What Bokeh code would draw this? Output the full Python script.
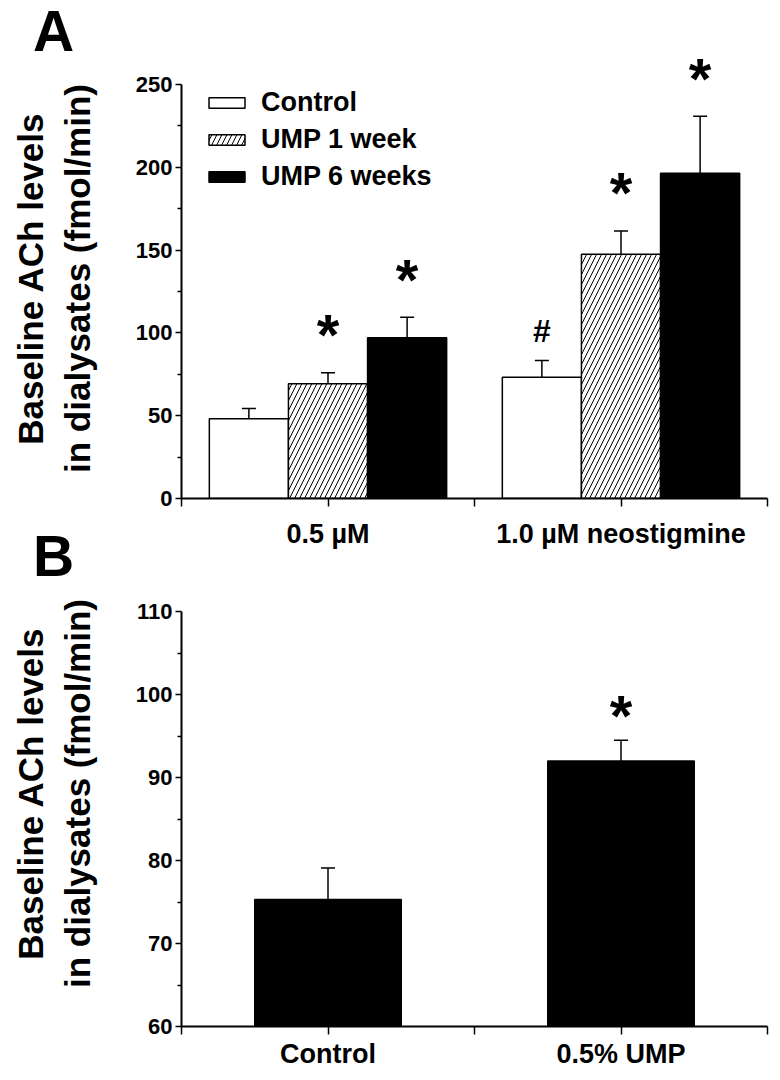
import numpy as np
from bokeh.plotting import figure
from bokeh.models import (ColumnDataSource, Range1d, FixedTicker, Whisker, TeeHead,
                          Legend, LegendItem, Div)
from bokeh.layouts import column
from bokeh.embed import file_html
from bokeh.resources import INLINE
from bokeh.core.properties import value

# ---------------- data ----------------
groups_A = ["0.5 \u00b5M", "1.0 \u00b5M neostigmine"]
series_A = ["Control", "UMP 1 week", "UMP 6 weeks"]
control_A = [48.2, 73.2]
control_A_err = [6.2, 10.1]
ump1_A = [69.3, 147.5]
ump1_A_err = [6.7, 14.1]
ump6_A = [97.0, 196.4]
ump6_A_err = [12.5, 34.5]
sig_control_A = ["", "#"]
sig_ump1_A = ["*", "*"]
sig_ump6_A = ["*", "*"]
yticks_A = [0, 50, 100, 150, 200, 250]
yminor_A = [25, 75, 125, 175, 225]

groups_B = ["Control", "0.5% UMP"]
vals_B = [75.3, 92.0]
err_B = [3.8, 2.5]
sig_B = ["", "*"]
yticks_B = [60, 70, 80, 90, 100, 110]
yminor_B = [65, 75, 85, 95, 105]

panel_letters = ["A", "B"]

FONT = "Liberation Sans"
YLABEL = "Baseline ACh levels\nin dialysates (fmol/min)"

# ---------------- layout constants ----------------
FRAME_W = 586
LEFT = 181
RIGHT = 5
W = LEFT + FRAME_W + RIGHT

A_TOP, A_FRAME_H, A_BOTTOM = 58, 440, 62
B_TOP, B_FRAME_H, B_BOTTOM = 0, 466, 46

A_PPU = 414.0 / 250.0
B_PPU = 415.0 / 50.0
A_YEND = A_FRAME_H / A_PPU
B_YEND = 60 + B_FRAME_H / B_PPU


def style(p, yticks, yminor, ybounds, xlabels, x_standoff):
    p.xgrid.visible = False
    p.ygrid.visible = False
    p.outline_line_color = None
    p.background_fill_color = "white"
    p.border_fill_color = "white"

    yax = p.yaxis[0]
    yax.ticker = FixedTicker(ticks=yticks, minor_ticks=yminor)
    yax.bounds = ybounds
    yax.axis_line_width = 2
    yax.major_tick_line_width = 1.5
    yax.minor_tick_line_width = 1.5
    yax.major_tick_in = 0
    yax.major_tick_out = 6
    yax.minor_tick_in = 0
    yax.minor_tick_out = 4
    yax.major_label_standoff = 3
    yax.major_label_text_font = FONT
    yax.major_label_text_font_style = "bold"
    yax.major_label_text_font_size = "22px"
    yax.major_label_text_color = "black"
    yax.axis_label = YLABEL
    yax.axis_label_text_font = FONT
    yax.axis_label_text_font_style = "bold"
    yax.axis_label_text_font_size = "35px"
    yax.axis_label_text_color = "black"
    yax.axis_label_standoff = 36

    n = len(xlabels)
    xticks = list(range(0, 2 * n + 1))
    overrides = {t: "" for t in xticks}
    for i, lab in enumerate(xlabels):
        overrides[2 * i + 1] = lab
    xax = p.xaxis[0]
    xax.ticker = FixedTicker(ticks=xticks, minor_ticks=[])
    xax.major_label_overrides = overrides
    xax.bounds = (0, 2 * n)
    xax.axis_line_width = 2
    xax.major_tick_line_width = 1.5
    xax.major_tick_in = 0
    xax.major_tick_out = 8
    xax.major_label_standoff = x_standoff
    xax.major_label_text_font = FONT
    xax.major_label_text_font_style = "bold"
    xax.major_label_text_font_size = "27px"
    xax.major_label_text_color = "black"


# ---------------- panel A ----------------
pA = figure(width=W, height=A_TOP + A_FRAME_H + A_BOTTOM, output_backend="svg",
            toolbar_location=None, x_range=Range1d(0, 4), y_range=Range1d(0, A_YEND),
            min_border_left=LEFT, min_border_right=RIGHT,
            min_border_top=A_TOP, min_border_bottom=A_BOTTOM)
style(pA, yticks_A, yminor_A, (0, 250), groups_A, 12)

centers_A = np.arange(len(groups_A)) * 2 + 1.0
bw = 0.54
offsets = [-bw, 0.0, bw]
series_vals = [control_A, ump1_A, ump6_A]
series_errs = [control_A_err, ump1_A_err, ump6_A_err]
series_sig = [sig_control_A, sig_ump1_A, sig_ump6_A]
fills = ["white", "white", "black"]
hatches = [None, "right_diagonal_line", None]

legend_items = []
for k, name in enumerate(series_A):
    vals = np.array(series_vals[k])
    errs = np.array(series_errs[k])
    xs = centers_A + offsets[k]
    sig = series_sig[k]
    star_px = np.array([29.5 if s == "#" else 38.0 for s in sig])
    src = ColumnDataSource(dict(x=xs, top=vals, upper=vals + errs,
                                sy=vals + errs + star_px / A_PPU, sig=sig))
    kw = dict(x="x", top="top", bottom=0, width=bw, source=src,
              fill_color=fills[k], line_color="black", line_width=1.5)
    if hatches[k]:
        kw.update(hatch_pattern=hatches[k], hatch_scale=10, hatch_weight=1,
                  hatch_color="black")
    r = pA.vbar(**kw)
    legend_items.append(LegendItem(label=name, renderers=[r]))
    pA.add_layout(Whisker(source=src, base="x", lower="top", upper="upper",
                          dimension="height", line_width=1.5, line_color="black",
                          lower_head=None,
                          upper_head=TeeHead(size=14, line_width=1.5, line_color="black")))
    for mark, fs in (("*", "58px"), ("#", "32px")):
        msrc = ColumnDataSource(dict(
            x=[x for x, s in zip(xs, sig) if s == mark],
            y=[y for y, s in zip(src.data["sy"], sig) if s == mark],
            t=[s for s in sig if s == mark]))
        pA.text(x="x", y="y", text="t", source=msrc, text_font=value(FONT),
                text_font_style="bold", text_font_size=fs, text_align="center",
                text_baseline="alphabetic", text_color="black")

legend = Legend(items=legend_items, location=(23, 306), padding=0, margin=0,
                spacing=6, glyph_width=45, glyph_height=13, label_height=30,
                label_standoff=12, border_line_alpha=0, background_fill_alpha=0,
                label_text_font=FONT, label_text_font_style="bold",
                label_text_font_size="27px", label_text_color="black")
pA.add_layout(legend)

# ---------------- panel B ----------------
pB = figure(width=W, height=B_TOP + B_FRAME_H + B_BOTTOM, output_backend="svg",
            toolbar_location=None, x_range=Range1d(0, 4), y_range=Range1d(60, B_YEND),
            min_border_left=LEFT, min_border_right=RIGHT,
            min_border_top=B_TOP, min_border_bottom=B_BOTTOM)
style(pB, yticks_B, yminor_B, (60, 110), groups_B, 4)

centers_B = np.arange(len(groups_B)) * 2 + 1.0
vB = np.array(vals_B)
eB = np.array(err_B)
srcB = ColumnDataSource(dict(x=centers_B, top=vB, upper=vB + eB))
pB.vbar(x="x", top="top", bottom=60, width=1.0, source=srcB,
        fill_color="black", line_color="black", line_width=1.5)
pB.add_layout(Whisker(source=srcB, base="x", lower="top", upper="upper",
                      dimension="height", line_width=1.5, line_color="black",
                      lower_head=None,
                      upper_head=TeeHead(size=14, line_width=1.5, line_color="black")))
starB = ColumnDataSource(dict(
    x=[x for x, s in zip(centers_B, sig_B) if s],
    y=[u + 25.0 / B_PPU for u, s in zip(vB + eB, sig_B) if s],
    t=[s for s in sig_B if s]))
pB.text(x="x", y="y", text="t", source=starB, text_font=value(FONT),
        text_font_style="bold", text_font_size="58px", text_align="center",
        text_baseline="alphabetic", text_color="black")

# ---------------- panel letters (overlaid) ----------------
letter_tops = [0, 525]
divs = []
for letter, top in zip(panel_letters, letter_tops):
    divs.append(Div(
        text=('<span style="font-family:\'Liberation Sans\';font-weight:bold;'
              'font-size:57px;line-height:1.117;color:black;">%s</span>' % letter),
        styles={"position": "absolute", "left": "33px", "top": "%dpx" % top,
                "margin": "0px", "padding": "0px"}))

layout = column(pA, pB, *divs, spacing=0)
open("out.html", "w").write(file_html(layout, INLINE))
